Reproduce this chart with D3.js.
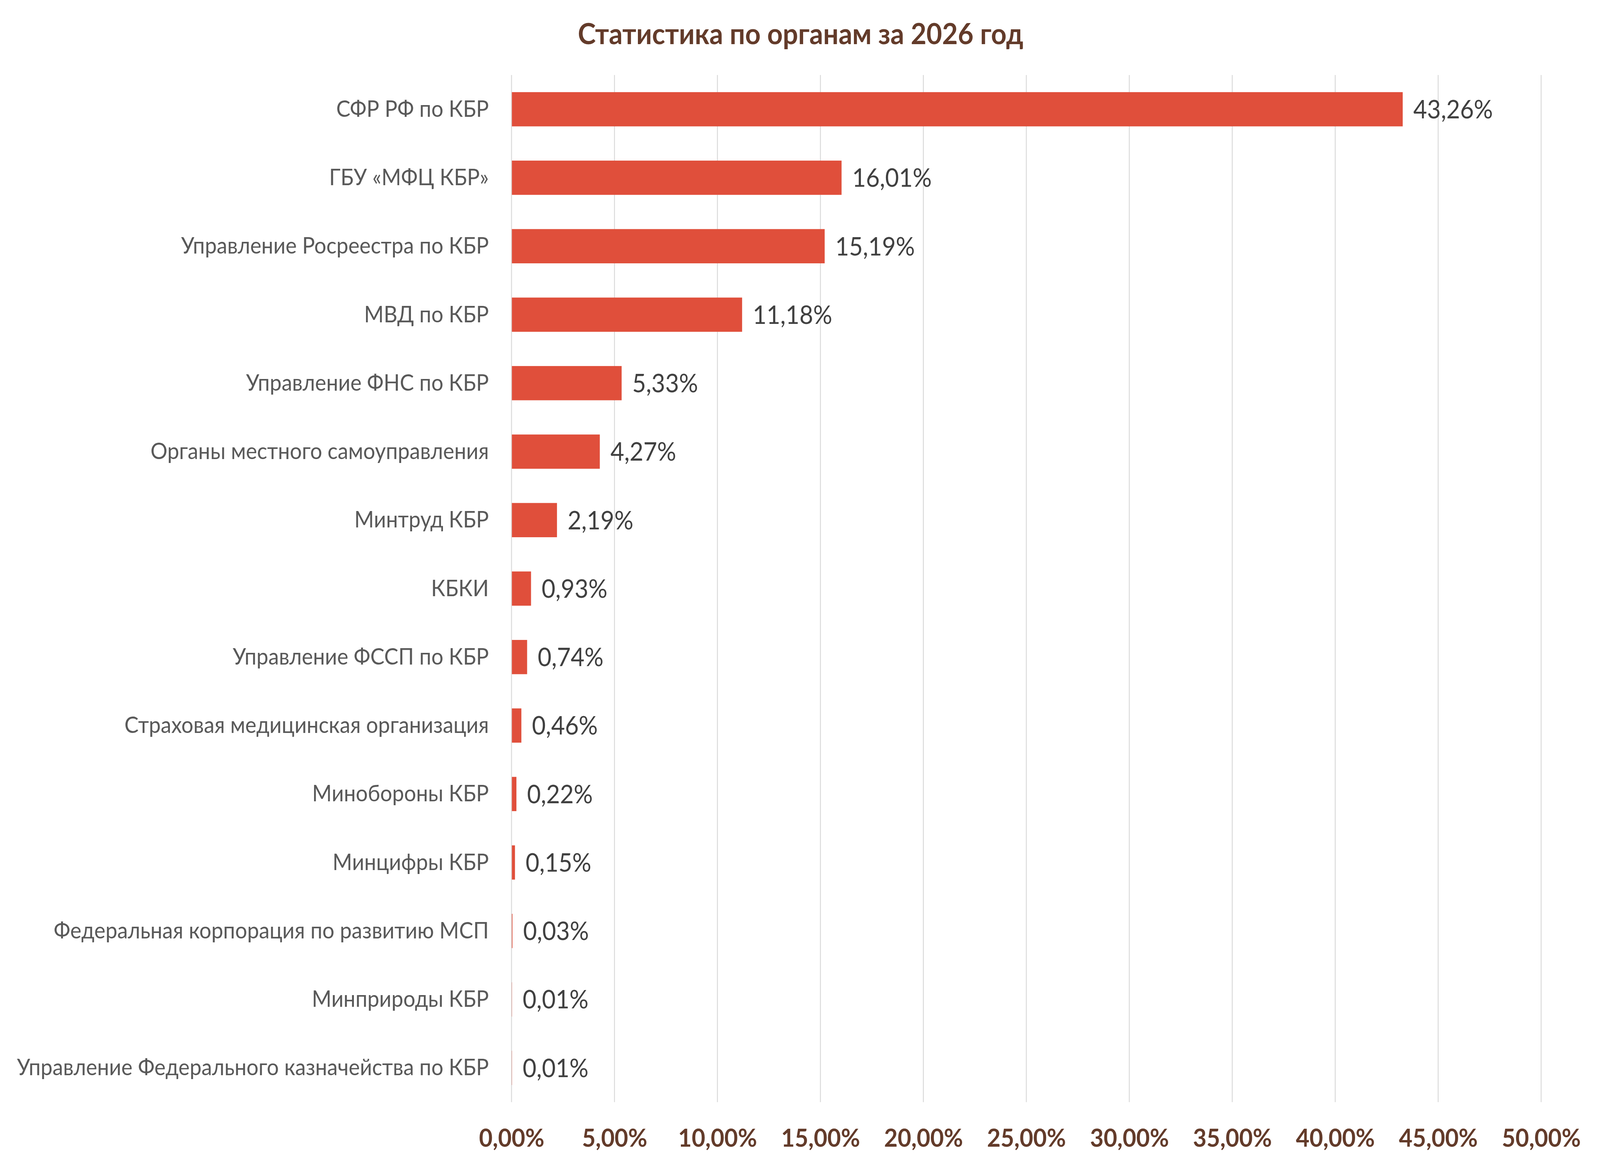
<!DOCTYPE html>
<html>
<head>
<meta charset="utf-8">
<script src="https://cdn.jsdelivr.net/npm/d3@7"></script>
<style>
  html, body { margin: 0; padding: 0; background: #fff; overflow: hidden; }
  svg { display: block; width: 100vw; height: 100vh; }
  text { font-family: Lato, "Open Sans", sans-serif; }
</style>
</head>
<body>
<svg id="chart" viewBox="0 0 4376 2987" preserveAspectRatio="none"></svg>
<script>
const title = 'Статистика по органам за 2026 год';

const categories = [
  'СФР РФ по КБР',
  'ГБУ «МФЦ КБР»',
  'Управление Росреестра по КБР',
  'МВД по КБР',
  'Управление ФНС по КБР',
  'Органы местного самоуправления',
  'Минтруд КБР',
  'КБКИ',
  'Управление ФССП по КБР',
  'Страховая медицинская организация',
  'Минобороны КБР',
  'Минцифры КБР',
  'Федеральная корпорация по развитию МСП',
  'Минприроды КБР',
  'Управление Федерального казначейства по КБР',
];

const shares = [
  0.4326, 0.1601, 0.1519, 0.1118, 0.0533, 0.0427, 0.0219, 0.0093,
  0.0074, 0.0046, 0.0022, 0.0015, 0.0003, 0.0001, 0.0001,
];

const xTicks = [0, 0.05, 0.1, 0.15, 0.2, 0.25, 0.3, 0.35, 0.4, 0.45, 0.5];

const ru = d3.formatLocale({
  decimal: ',',
  thousands: ' ',
  grouping: [3],
  currency: ['', ' ₽'],
  percent: '%',
});
const pct = ru.format('.2%');

const svg = d3.select('#chart');

const x = d3.scaleLinear().domain([0, 0.5]).range([1399, 4215]);
const y = d3
  .scaleBand()
  .domain(categories)
  .range([192, 2821])
  .paddingInner(0.5)
  .paddingOuter(0.25);

// gridlines
svg
  .append('g')
  .selectAll('line')
  .data(xTicks)
  .join('line')
  .attr('x1', d => x(d))
  .attr('x2', d => x(d))
  .attr('y1', 192)
  .attr('y2', 2821)
  .attr('stroke', '#d9d9d9')
  .attr('stroke-width', 2.5);

// bottom axis labels
const xAxis = d3
  .axisBottom(x)
  .tickValues(xTicks)
  .tickFormat(pct)
  .tickSize(0)
  .tickPadding(0);

const gx = svg.append('g').attr('transform', 'translate(0,2890)').call(xAxis);
gx.select('.domain').remove();
gx.selectAll('text')
  .attr('dy', '0.71em')
  .style('font-family', 'Lato, sans-serif')
  .style('font-size', '64px')
  .style('font-weight', 'bold')
  .attr('fill', '#633b2a');

// bars
svg
  .append('g')
  .selectAll('rect')
  .data(shares)
  .join('rect')
  .attr('x', x(0) + 1)
  .attr('y', (d, i) => y(categories[i]))
  .attr('width', d => x(d) - x(0))
  .attr('height', y.bandwidth())
  .attr('fill', '#e04f3b');

// value labels
svg
  .append('g')
  .selectAll('text')
  .data(shares)
  .join('text')
  .attr('x', d => x(d) + 30)
  .attr('y', (d, i) => y(categories[i]) + y.bandwidth() / 2)
  .attr('dy', '0.36em')
  .style('font-size', '65px')
  .attr('fill', '#404040')
  .text(d => pct(d));

// category labels
svg
  .append('g')
  .selectAll('text')
  .data(categories)
  .join('text')
  .attr('x', 1337)
  .attr('y', d => y(d) + y.bandwidth() / 2)
  .attr('dy', '0.33em')
  .attr('text-anchor', 'end')
  .style('font-size', '58px')
  .attr('fill', '#595959')
  .text(d => d);

// title
svg
  .append('text')
  .attr('x', (1575 + 2804) / 2)
  .attr('y', 113)
  .attr('text-anchor', 'middle')
  .style('font-size', '74px')
  .style('font-weight', 'bold')
  .attr('fill', '#633b2a')
  .text(title);
</script>
</body>
</html>
